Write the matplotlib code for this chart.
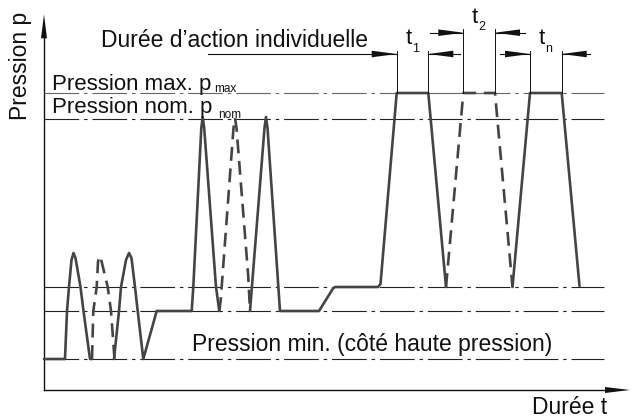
import matplotlib.pyplot as plt
from matplotlib.patches import Polygon

plt.rcParams['font.family'] = ['Liberation Sans', 'DejaVu Sans']
plt.rcParams['lines.scale_dashes'] = False

# reference pressure levels (schematic units, origin = axes corner)
p_min = 31
p_low = 79
p_mid = 103
p_nom = 271
p_max = 297
ref_levels = [p_min, p_low, p_mid, p_nom, p_max]

# solid pressure trace, in pieces (the dashed curve fills the gaps)
solid_t = [
    [0, 21, 23, 25, 27.5, 29.5, 31.5, 36.5, 39.5, 46, 48],
    [70, 75, 77, 82, 85, 87.5, 91, 93.7, 99.3, 112.7, 147.7, 149.3, 157.3, 158.7, 160.2, 172, 175.3],
    [206, 220.5, 222, 223.5, 236, 275, 289, 291, 334, 336.5, 352.7, 384.3, 402],
    [468.5, 486, 517.7, 535.5],
]
solid_p = [
    [31, 31, 79, 103, 130, 137, 132, 103, 79, 31, 31],
    [31, 79, 103, 130, 137, 132, 103, 79, 31, 79, 79, 103, 262, 273, 262, 103, 79],
    [79, 262, 273, 262, 79, 79, 101.5, 103, 103, 106, 297, 297, 103],
    [103, 297, 297, 104],
]

# dashed alternative trace
dashed_t = [
    [48, 49.3, 52.7, 54, 55.3, 57, 63.7, 67, 70.5],
    [175.3, 176.7, 189.5, 191, 192.5, 204.3, 206],
    [402, 419.3, 451, 468.5],
]
dashed_p = [
    [31, 79, 103, 128, 134, 131, 103, 79, 31],
    [79, 90, 262, 272, 262, 113, 79],
    [103, 297, 297, 103],
]

# single action durations t1, t2, tn
dur_subs = ['1', '2', 'n']
dur_start = [352.7, 419.3, 486]
dur_end = [384.3, 451, 517.7]

fig = plt.figure(figsize=(6.36, 4.18), dpi=100)
ax = fig.add_axes([0, 0, 1, 1])
ax.set_xlim(-44, 592)
ax.set_ylim(-28, 390)
ax.axis('off')

ink = '#111111'
trace = '#444444'


def head(x, y, dx, dy, w=3.3):
    # filled arrow head, tip at (x, y), pointing along (dx, dy)
    n = (dx * dx + dy * dy) ** 0.5
    ux, uy = dx / n, dy / n
    bx, by = x - dx, y - dy
    ax.add_patch(Polygon([(x, y), (bx - uy * w, by + ux * w), (bx + uy * w, by - ux * w)],
                         closed=True, color=ink, lw=0))


# axes with arrows
ax.plot([0, 0], [0, 360], color=ink, lw=1.0)
head(0, 375.7, 0, 24, 3)
ax.plot([0, 570], [0, 0], color=ink, lw=1.0)
head(586, 0, 25, 0, 3)

# reference lines (dash-dot)
for lv in ref_levels:
    col = '#666666' if lv == p_max else '#222222'
    ax.plot([0, 560], [lv, lv], color=col, lw=0.8, linestyle=(0, (25, 3.5, 2.5, 3.5)))

# pressure traces
for t, p in zip(solid_t, solid_p):
    ax.plot(t, p, color=trace, lw=1.9, solid_joinstyle='round', solid_capstyle='round')
for t, p in zip(dashed_t, dashed_p):
    ax.plot(t, p, color=trace, lw=1.9, linestyle=(0, (10, 5.5)), dash_capstyle='butt')

# duration dimension markers
dim_y = [336, 357.3, 336]
line_l = [164, 386, 456]
line_r = [416, 481, 546]
for s, e, yy, l, r, sub in zip(dur_start, dur_end, dim_y, line_l, line_r, dur_subs):
    ax.plot([s, s], [p_max, yy + 3.5], color=ink, lw=0.7)
    ax.plot([e, e], [p_max, yy + 3.5], color=ink, lw=0.7)
    ax.plot([l, s], [yy, yy], color=ink, lw=0.8)
    ax.plot([e, r], [yy, yy], color=ink, lw=0.8)
    head(s, yy, 25, 0)
    head(e, yy, -25, 0)
    ax.text(s + 8.5, yy + 9.5, 't', fontsize=16, color=ink, va='baseline', ha='left')
    ax.text(s + 15.5, yy + 2.3, sub, fontsize=9, color=ink, va='baseline', ha='left')

# labels
fs = 16.5
ax.text(57, 343, 'Durée d\u2019action individuelle', fontsize=fs, color=ink, va='baseline')
ax.text(8, 300, 'Pression max. p', fontsize=16, color=ink, va='baseline')
ax.text(170.5, 298, 'max', fontsize=8.5, color=ink, va='baseline')
ax.text(8, 276.7, 'Pression nom. p', fontsize=16, color=ink, va='baseline')
ax.text(174, 272, 'nom', fontsize=8.5, color=ink, va='baseline')
ax.text(147.7, 39.3, 'Pression min. (côté haute pression)', fontsize=fs, color=ink, va='baseline')
ax.text(487.7, -24.3, 'Durée t', fontsize=fs, color=ink, va='baseline')
ax.text(-23, 324, 'Pression p', fontsize=fs, color=ink, rotation=90, ha='center', va='center')

fig.savefig('out.png', dpi=100)
